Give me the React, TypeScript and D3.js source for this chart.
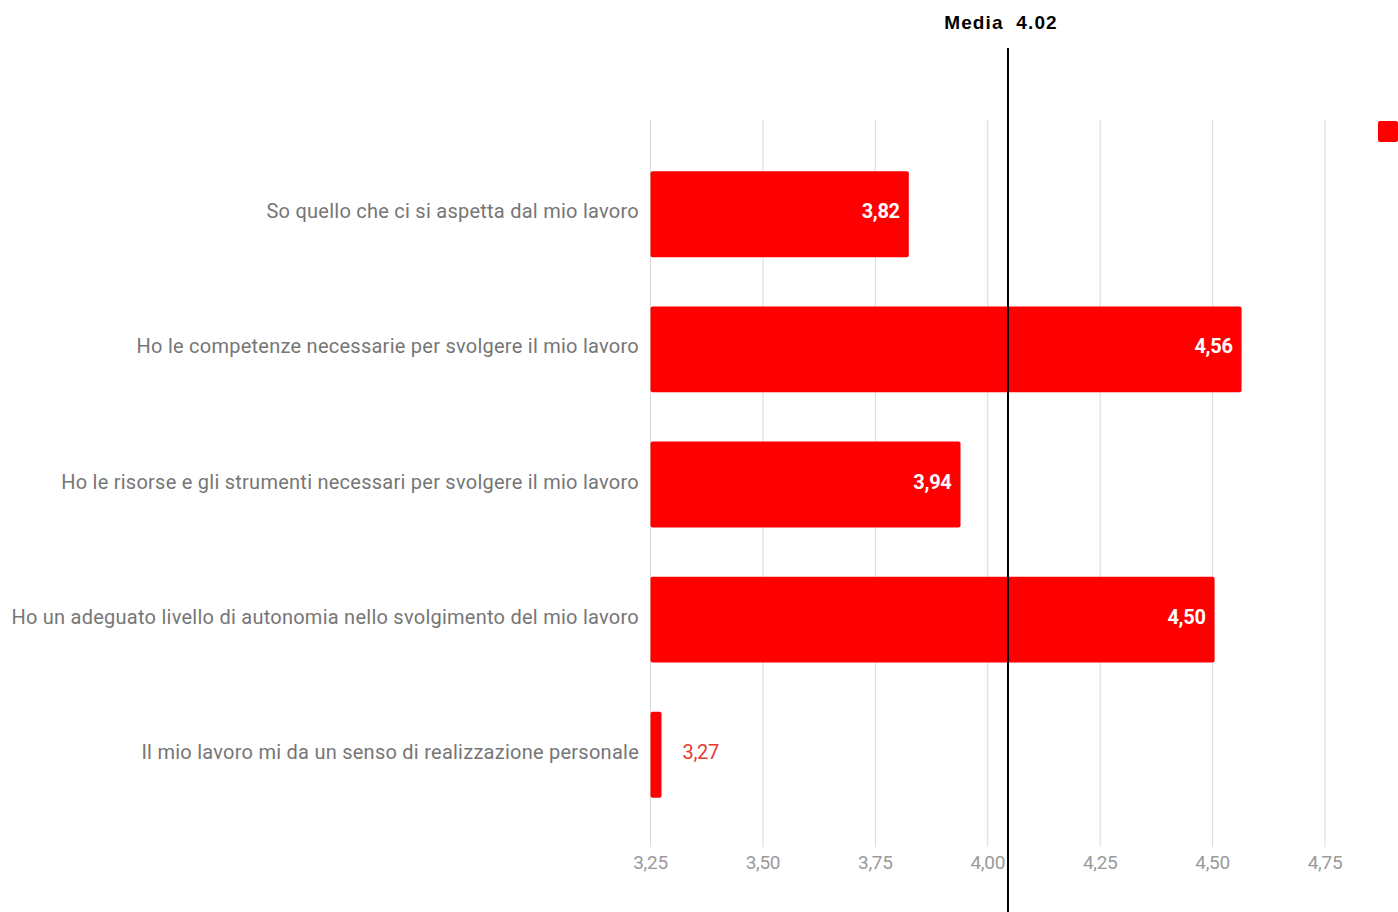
import React from "react";
import * as d3 from "d3";

const categories = [
  "So quello che ci si aspetta dal mio lavoro",
  "Ho le competenze necessarie per svolgere il mio lavoro",
  "Ho le risorse e gli strumenti necessari per svolgere il mio lavoro",
  "Ho un adeguato livello di autonomia nello svolgimento del mio lavoro",
  "Il mio lavoro mi da un senso di realizzazione personale",
];
const values = [3.82, 4.56, 3.935, 4.5, 3.27];
const valueLabels = ["3,82", "4,56", "3,94", "4,50", "3,27"];
const ticks = [3.25, 3.5, 3.75, 4.0, 4.25, 4.5, 4.75];
const tickLabels = ["3,25", "3,50", "3,75", "4,00", "4,25", "4,50", "4,75"];
const meanLabel = "Media  4.02";
const meanLinePos = 4.045;

const W = 1398;
const H = 912;
const FONT = "Roboto, 'Noto Sans', sans-serif";

export default function App() {
  const x = d3.scaleLinear().domain([3.25, 4.75]).range([650.5, 1325]);
  const y = d3
    .scaleBand<string>()
    .domain(categories)
    .range([122, 847])
    .paddingInner(0.365)
    .paddingOuter(0.365);
  const bw = y.bandwidth();
  const xm = x(meanLinePos);

  return (
    <svg
      width={W}
      height={H}
      style={{ position: "absolute", left: 0, top: 0, background: "#fff" }}
    >
      {ticks.map((t, i) => (
        <g key={t}>
          <line x1={x(t)} x2={x(t)} y1={120} y2={847} stroke="#d9d9d9" strokeWidth={1} />
          <text
            x={x(t)}
            y={869}
            textAnchor="middle"
            fontFamily={FONT}
            fontSize={19}
            fill="#9a9a9a"
            letterSpacing={-0.3}
          >
            {tickLabels[i]}
          </text>
        </g>
      ))}
      {categories.map((c, i) => {
        const yc = (y(c) as number) + bw / 2;
        const inside = x(values[i]) - x(3.25) > 60;
        return (
          <g key={c}>
            <rect
              x={x(3.25)}
              y={y(c)}
              width={x(values[i]) - x(3.25) + 2}
              height={bw}
              fill="#ff0000"
              rx={2}
            />
            <text
              x={639}
              y={yc + 4}
              textAnchor="end"
              fontFamily={FONT}
              fontSize={20}
              fill="#767676"
              letterSpacing={0.25}
            >
              {c}
            </text>
            <text
              x={inside ? x(values[i]) - 7 : x(values[i]) + 23}
              y={yc + 4}
              textAnchor={inside ? "end" : "start"}
              fontFamily={FONT}
              fontSize={20}
              fontWeight={inside ? 700 : 400}
              fill={inside ? "#ffffff" : "#e53935"}
              letterSpacing={-0.3}
            >
              {valueLabels[i]}
            </text>
          </g>
        );
      })}
      <rect x={1378} y={121} width={20} height={21} fill="#ff0000" rx={2} />
      <line x1={xm} x2={xm} y1={48} y2={H} stroke="#000" strokeWidth={2} />
      <text
        x={1001}
        y={29}
        textAnchor="middle"
        fontFamily="'Liberation Sans', Arial, sans-serif"
        fontSize={19}
        fontWeight={700}
        fill="#000"
        letterSpacing={1.1}
        style={{ whiteSpace: "pre" }}
      >
        {meanLabel}
      </text>
    </svg>
  );
}
